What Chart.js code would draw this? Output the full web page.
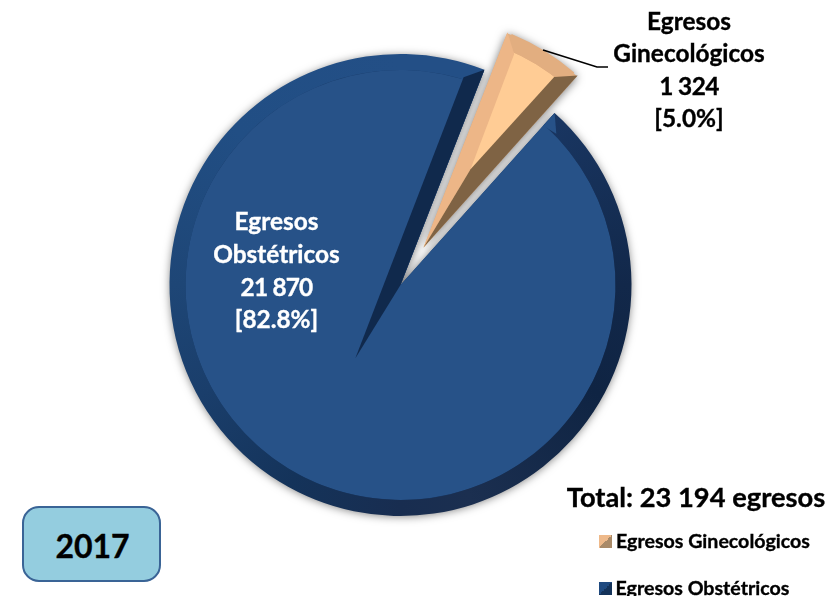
<!DOCTYPE html>
<html>
<head>
<meta charset="utf-8">
<script src="https://cdn.jsdelivr.net/npm/chart.js@4"></script>
<style>
html, body { margin: 0; padding: 0; background: #fff; }
body { position: relative; width: 835px; height: 596px; overflow: hidden; font-family: Lato, sans-serif; font-weight: 700; color: #000; }
#graphique { position: absolute; left: 0; top: -34px; }
.txt { position: absolute; white-space: nowrap; text-align: center; transform: translate(-50%, -50%); -webkit-text-stroke: 0.35px currentColor; }
#annee { position: absolute; left: 22px; top: 506px; width: 133px; height: 72px; padding-left: 2px; border: 2.5px solid #3a6496; border-radius: 17px; background: #94cddf; font-size: 32px; line-height: 76px; text-align: center; -webkit-text-stroke: 0.35px #000; }
.swatch { position: absolute; width: 13px; height: 13px; }
#trait { position: absolute; left: 0; top: 0; }
</style>
</head>
<body>
<canvas id="graphique" width="835" height="638"></canvas>
<svg id="trait" width="835" height="596"><polyline points="543,50 597,67 608,67" fill="none" stroke="#000" stroke-width="1.6"/></svg>
<div id="annee">2017</div>
<script>
const categories = ['Egresos Ginecológicos', 'Egresos Obstétricos'];
const egresos = [1324, 21870];
const egresosTxt = ['1 324', '21 870'];
const pourcent = ['[5.0%]', '[82.8%]'];
const totalTxt = 'Total: 23 194 egresos';

const deg = Math.PI / 180;

// point en polaire autour du centre de l'arc (angle depuis le haut, sens horaire)
function pol(c, angle, r) {
    const a = (angle - 90) * deg;
    return [c.x + Math.cos(a) * r, c.y + Math.sin(a) * r];
}

function centre(arc) {
    const mid = (arc.startAngle + arc.endAngle) / 2;
    const off = (arc.options.offset || 0) / 4;
    return { x: arc.x + Math.cos(mid) * off, y: arc.y + Math.sin(mid) * off };
}

function poly(ctx, pts, color) {
    ctx.beginPath();
    pts.forEach((p, i) => i ? ctx.lineTo(p[0], p[1]) : ctx.moveTo(p[0], p[1]));
    ctx.closePath();
    ctx.fillStyle = color;
    ctx.fill();
}

function rimCouleur(context) {
    if (context.dataIndex === 0) return '#e2ae80';
    const chart = context.chart;
    const area = chart.chartArea;
    if (!area) return '#17345f';
    const g = chart.ctx.createConicGradient(0, (area.left + area.right) / 2, (area.top + area.bottom) / 2);
    g.addColorStop(0, '#12284a');
    g.addColorStop(0.08, '#0f2443');
    g.addColorStop(0.2, '#1b2f50');
    g.addColorStop(0.25, '#182d50');
    g.addColorStop(0.33, '#14335a');
    g.addColorStop(0.42, '#1a3e6b');
    g.addColorStop(0.5, '#1e4676');
    g.addColorStop(0.62, '#214e84');
    g.addColorStop(0.75, '#234f86');
    g.addColorStop(0.81, '#234f86');
    g.addColorStop(0.866, '#193662');
    g.addColorStop(1, '#12284a');
    return g;
}

const biseau = {
    id: 'biseau',
    afterDatasetsUpdate(chart) {
        // l'arc décalé grossit de offset * fix au dessin : on compense
        chart.data.datasets.forEach((ds, i) => {
            const arc = chart.getDatasetMeta(i).data[0];
            const fix = 1 - Math.sin(Math.min(Math.PI, arc.circumference));
            const comp = (arc.options.offset / 4) * fix;
            arc.outerRadius -= comp;
            if (arc.innerRadius > 0) arc.innerRadius -= comp;
        });
    },
    beforeDatasetsDraw(chart) {
        // ombre portée sous les deux parts
        const ctx = chart.ctx;
        const arcs = chart.getDatasetMeta(0).data;
        const R = arcs[1].outerRadius;
        ctx.save();
        ctx.shadowColor = 'rgba(0,0,0,0.55)';
        ctx.shadowBlur = 10;
        ctx.shadowOffsetY = 1;
        arcs.forEach((arc, i) => {
            const c = centre(arc);
            ctx.fillStyle = i ? '#1a3d6c' : '#e2ae80';
            ctx.beginPath();
            ctx.moveTo(c.x, c.y);
            ctx.arc(c.x, c.y, R - 1, arc.startAngle, arc.endAngle);
            ctx.closePath();
            ctx.fill();
        });
        ctx.restore();
    },
    afterDatasetsDraw(chart) {
        const ctx = chart.ctx;
        const arcs = chart.getDatasetMeta(0).data;
        const R = arcs[1].outerRadius;
        const a0 = (arcs[0].startAngle + Math.PI / 2) / deg;
        const a1 = (arcs[0].endAngle + Math.PI / 2) / deg;

        // part orange
        const c1 = centre(arcs[0]);
        poly(ctx, [pol(c1, 0, 0), pol(c1, a0, R), pol(c1, a0 + 3.8, R * 0.925), pol(c1, a0 + 9.7, R * 0.395)], '#edb687');
        poly(ctx, [pol(c1, 0, 0), pol(c1, a1, R), pol(c1, a1 - 4.4, R * 0.93), pol(c1, a0 + 9.7, R * 0.395)], '#7f6344');

        // part bleue
        const c2 = centre(arcs[1]);
        poly(ctx, [pol(c2, a0, R), pol(c2, a0 - 4.4, R * 0.94), pol(c2, 211.6, R * 0.374), pol(c2, 0, 0)], '#10294c');
        poly(ctx, [pol(c2, a1, R), pol(c2, a1, R * 0.925), pol(c2, a1 + 4, R * 0.94)], '#275288');
    }
};

const ctx1 = document.getElementById('graphique').getContext('2d');
new Chart(ctx1, {
    type: 'pie',
    data: {
        labels: categories,
        datasets: [
            {
                data: egresos,
                weight: 16,
                offset: [176, 0],
                borderWidth: 0,
                backgroundColor: rimCouleur
            },
            {
                data: egresos,
                weight: 215,
                offset: [176, 0],
                borderWidth: 0,
                backgroundColor: ['#ffcc95', '#275288']
            }
        ]
    },
    options: {
        responsive: false,
        animation: false,
        rotation: 21.3,
        layout: { padding: { left: 81.5, right: 115.5, top: 0, bottom: 0 } },
        plugins: {
            legend: { display: false },
            tooltip: { enabled: false }
        }
    },
    plugins: [biseau]
});

function addText(str, x, y, size, color, serre) {
    const d = document.createElement('div');
    d.className = 'txt';
    d.textContent = str;
    d.style.left = x + 'px';
    d.style.top = y + 'px';
    d.style.fontSize = size + 'px';
    d.style.color = color;
    if (serre) d.style.letterSpacing = serre + 'px';
    document.body.appendChild(d);
}

// étiquettes
const mots = categories.map((c) => c.split(' '));
[mots[0][0], mots[0][1], egresosTxt[0], pourcent[0]].forEach((s, i) => addText(s, 689, [20, 52, 85, 117][i], 24.4, '#000', i === 2 ? -0.6 : 0));
[mots[1][0], mots[1][1], egresosTxt[1], pourcent[1]].forEach((s, i) => addText(s, 276.5, [220, 253, 286, 318][i], 24.4, '#fff', i === 2 ? -0.8 : 0));
addText(totalTxt, 696, 496, 27.3, '#000');

// légende
const swatches = [
    'linear-gradient(135deg, #eeb98a 50%, #a98a68 50%)',
    'linear-gradient(135deg, #1f4a80 50%, #14335a 50%)'
];
categories.forEach((c, i) => {
    const y = [540, 587][i];
    const s = document.createElement('div');
    s.className = 'swatch';
    s.style.left = '599px';
    s.style.top = [535, 582][i] + 'px';
    s.style.background = swatches[i];
    document.body.appendChild(s);
    addText(c, [713, 702.5][i], y, 19.6, '#000');
});
</script>
</body>
</html>
